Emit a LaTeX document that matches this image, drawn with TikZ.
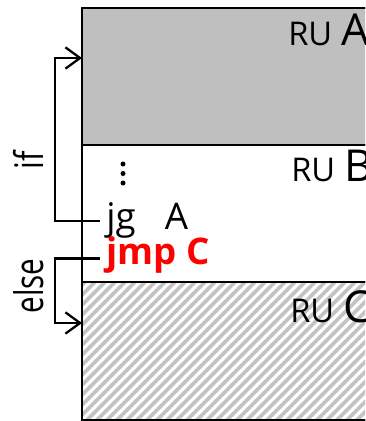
\documentclass[tikz,border=0pt]{standalone}
\usepackage{fontspec}
\setmainfont{Open Sans}
\usetikzlibrary{arrows.meta,calc}
\definecolor{boxgray}{RGB}{191,191,191}
\definecolor{hatchgray}{RGB}{195,195,195}
\definecolor{jred}{RGB}{255,0,0}
\tikzset{
  region/.style={draw, line width=2.1pt, anchor=north west, inner sep=0pt, outer sep=0pt, minimum width=240pt},
  rulbl/.style={inner sep=0pt, anchor=base west, font=\fontsize{24.5}{28}\selectfont},
  code/.style={inner xsep=4.5pt, inner ysep=0pt, anchor=base west, font=\fontsize{27.5}{32}\selectfont},
  side/.style={inner sep=0pt, rotate=90, anchor=base, font=\fontsize{29.6}{34}\selectfont},
  conn/.style={line width=1.7pt, -{Straight Barb[length=11pt,width=16pt,line width=1.7pt]}},
  hatched/.style={path picture={
      \foreach \i in {-16,...,32}
        \draw[hatchgray, line width=2.7pt]
          ($(path picture bounding box.south west)+(\i*10,5)$) -- ++(160,-160);
  }}
}
\newcommand{\biglet}[1]{{\fontsize{33}{38}\selectfont #1}}
\begin{document}
\begin{tikzpicture}[x=0.75pt,y=-0.75pt]
\clip (0,0) rectangle (365,421);
\fill[white] (0,0) rectangle (365,421);
% regions
\node[region, fill=boxgray, minimum height=102.75pt] (boxA) at (82,8) {};
\node[region, fill=white, minimum height=102.75pt] (boxB) at (82,145) {};
\node[region, fill=white, hatched, minimum height=103.5pt] (boxC) at (82,282) {};
\draw[line width=2.1pt] (boxA.north west) rectangle (boxC.south east);
\draw[line width=2.1pt] (boxB.north west) -- (boxB.north east);
\draw[line width=2.1pt] (boxC.north west) -- (boxC.north east);
% labels
\node[rulbl] (ruA) at (288,45) {RU\hspace{7pt}\biglet{A}};
\node[rulbl] (ruB) at (291,181) {RU\hspace{7pt}\biglet{B}};
\node[rulbl] (ruC) at (290,322) {RU\hspace{7pt}\biglet{C}};
% dots
\fill (123,164) circle (2.5);
\fill (123,173.5) circle (2.5);
\fill (123,183) circle (2.5);
% code lines
\node[code] (jg) at (100,229) {jg\hspace{22pt}A};
\node[code, text=jred, font=\fontsize{27.5}{32}\selectfont\bfseries] (jmp) at (100,264) {jmp C};
% side labels
\node[side] (if) at (43,160) {\scalebox{0.78}[1]{if}};
\node[side] (else) at (43,286) {\scalebox{0.75}[1]{else}};
% connectors
\draw[conn] ($(jg.west)+(0,1)$) -- ++(-45,0) |- ($(boxA.north west)+(0,50)$);
\draw[conn] ($(jmp.west)+(0,4)$) -- ++(-45,0) |- ($(boxC.north west)+(0,41)$);
\end{tikzpicture}
\end{document}
